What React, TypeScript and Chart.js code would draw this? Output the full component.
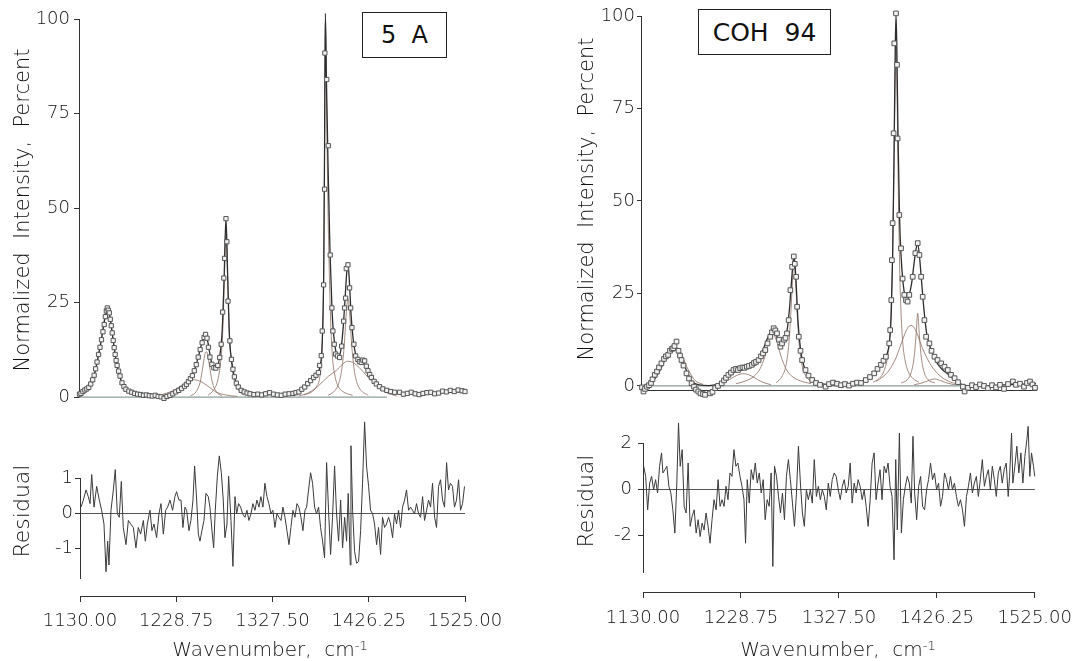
import React, { useEffect, useRef } from "react";
import { Chart, registerables } from "chart.js";
Chart.register(...registerables);

const FONT = "'DejaVu Sans', 'Open Sans', sans-serif";
const WEIGHT = "300";
const INK = "#333333";
const TEXT_INK = "#111111";
const FIT_COLOR = "#2e2e2e";
const COMP_COLOR = "#8a6f62";
const BASE_COLOR = "#8d9c9c";
const RES_COLOR = "#3a3a3a";

const X_MIN = 1130;
const X_MAX = 1525;
const X_TICKS = [1130, 1228.75, 1327.5, 1426.25, 1525];
const Y_TICKS_TOP = [0, 25, 50, 75, 100];
const Y_TICKS_RES_A = [-1, 0, 1];
const Y_TICKS_RES_B = [-2, 0, 2];

// ---------- Panel A : "5 A" ----------
const A_OBS_X = [1130.5, 1132, 1134, 1136, 1138, 1140, 1142, 1144, 1145.5, 1147, 1148.5, 1150, 1151.5, 1153, 1154.5, 1155.8, 1157, 1158, 1159, 1160, 1161, 1162, 1163, 1164, 1165, 1166, 1167, 1168, 1169, 1170.5, 1172, 1174, 1176, 1178, 1181, 1184, 1187, 1190, 1193, 1196, 1199, 1202, 1205, 1208, 1211, 1214, 1217, 1220, 1223, 1226, 1229, 1232, 1235, 1238, 1240, 1242, 1244, 1246, 1248, 1250, 1252, 1254, 1256, 1258, 1259.5, 1261, 1262.5, 1264, 1266, 1268, 1270, 1272, 1274, 1275.5, 1277, 1278.2, 1279, 1280.4, 1281.3, 1282.5, 1284.4, 1286, 1287.5, 1289, 1291, 1293, 1296, 1299, 1302, 1305, 1309, 1313, 1317, 1321, 1325, 1329, 1333, 1337, 1341, 1345, 1349, 1352, 1355, 1358, 1361, 1364, 1367, 1370, 1372.5, 1375, 1376.2, 1377.9, 1378.9, 1380.3, 1381.3, 1381.6, 1382, 1383.5, 1385.1, 1387.1, 1388.8, 1389.8, 1391.2, 1392.6, 1394.5, 1396.7, 1398.8, 1400.8, 1401.8, 1402.8, 1403.5, 1405.2, 1406.9, 1408, 1409.3, 1411.3, 1413.1, 1415.4, 1417, 1418.9, 1420.5, 1422.3, 1424, 1425.7, 1427.5, 1429.2, 1432, 1434.3, 1437.5, 1441, 1445, 1449, 1453, 1458, 1462, 1466, 1470, 1474, 1478, 1482, 1486, 1490, 1494, 1498, 1502, 1506, 1510, 1514, 1518, 1522, 1525];
const A_OBS_Y = [0.8, 1.0, 1.5, 1.9, 2.2, 2.6, 3.5, 4.6, 5.8, 7.5, 9.3, 11.3, 13.2, 15.2, 17.3, 19.2, 21.3, 22.8, 23.6, 23.0, 22.3, 20.6, 18.9, 17.0, 15.0, 13.1, 11.3, 9.7, 8.4, 6.9, 5.6, 3.8, 2.8, 2.1, 1.6, 1.3, 1.0, 0.8, 0.7, 0.5, 0.6, 0.4, 0.3, 0.5, 0.2, 0.1, -0.3, 0.2, 0.5, 0.9, 1.4, 1.8, 2.3, 2.9, 3.4, 4.1, 4.9, 5.7, 7.0, 8.6, 10.6, 12.6, 14.4, 15.8, 16.6, 15.6, 13.2, 10.6, 8.7, 7.8, 7.7, 8.4, 10.5, 14.0, 22.5, 31.5, 36.7, 47.2, 41.1, 25.4, 14.9, 10.0, 7.4, 5.4, 3.7, 2.7, 1.8, 1.4, 1.1, 0.9, 0.7, 0.8, 0.6, 0.9, 1.2, 0.8, 0.6, 0.5, 0.8, 0.9, 1.0, 1.2, 1.4, 2.1, 2.7, 3.6, 4.4, 5.2, 5.8, 6.5, 8.4, 11.0, 17.5, 29.7, 55.0, 91.0, 101.6, 84.0, 66.5, 37.6, 23.6, 17.5, 14.0, 11.4, 10.9, 10.5, 13.5, 20.1, 23.6, 26.2, 34.0, 35.0, 28.9, 23.6, 18.4, 14.0, 10.9, 10.0, 9.4, 9.2, 9.8, 9.6, 8.2, 7.0, 6.0, 5.2, 4.2, 3.5, 2.8, 2.2, 1.8, 1.5, 1.3, 1.3, 0.8, 1.0, 1.3, 0.9, 0.7, 1.0, 1.2, 1.3, 0.9, 1.1, 1.6, 1.4, 1.8, 1.5, 1.9, 1.7, 1.5];

const A_FIT_X = [1130, 1134, 1138, 1141, 1144, 1147, 1150, 1153, 1156, 1158, 1159.3, 1160.5, 1162.5, 1165, 1168, 1171, 1174, 1178, 1184, 1192, 1202, 1212, 1220, 1227, 1234, 1240, 1245, 1249, 1253, 1256.5, 1259.6, 1262, 1265, 1268, 1271, 1274, 1276.5, 1278.5, 1280.4, 1282, 1284, 1286, 1289, 1293, 1300, 1310, 1330, 1345, 1355, 1362, 1368, 1373, 1376.5, 1378.8, 1380.4, 1381.3, 1382.1, 1383.2, 1384.8, 1386.8, 1389, 1391, 1393, 1395.5, 1398, 1400.5, 1402.5, 1404, 1405.2, 1406.5, 1408.5, 1410.5, 1413, 1416, 1420, 1424, 1428, 1433, 1440, 1450, 1465, 1480, 1500, 1525];
const A_FIT_Y = [0.9, 1.5, 2.2, 3.0, 4.6, 7.4, 11.3, 15.4, 20.2, 22.6, 23.5, 22.9, 19.8, 15.0, 9.7, 6.1, 3.8, 2.1, 1.2, 0.7, 0.4, 0.3, 0.5, 1.1, 2.1, 3.5, 5.2, 7.8, 11.6, 15.0, 16.4, 14.4, 9.9, 7.8, 8.0, 10.8, 17.5, 31.5, 47.5, 33.5, 16.0, 10.0, 5.4, 2.8, 1.3, 0.8, 0.7, 0.9, 1.5, 2.7, 4.3, 5.8, 8.0, 14.0, 33.0, 66.0, 101.5, 84.0, 62.0, 39.0, 22.5, 15.5, 12.0, 10.8, 12.5, 19.0, 27.0, 33.0, 35.5, 31.5, 21.5, 15.5, 11.5, 10.0, 9.3, 8.0, 6.0, 4.2, 2.6, 1.6, 1.1, 1.0, 1.2, 1.5];

const A_C1_X = [1130, 1136, 1141, 1145, 1149, 1153, 1156, 1159, 1162, 1165, 1168, 1171, 1175, 1181, 1190, 1200];
const A_C1_Y = [1.2, 1.8, 3.0, 5.2, 9.6, 15.5, 20.5, 23.3, 20.5, 15.0, 9.6, 6.0, 3.4, 1.6, 0.6, 0.2];
const A_C2B_X = [1205, 1215, 1225, 1233, 1240, 1248, 1255, 1262, 1270, 1280, 1292];
const A_C2B_Y = [0.2, 0.7, 1.6, 2.8, 3.9, 4.6, 4.1, 2.9, 1.4, 0.6, 0.2];
const A_C2_X = [1244, 1250, 1254, 1257, 1259, 1260.2, 1261.4, 1263.4, 1266.4, 1270.4, 1276.4];
const A_C2_Y = [0.3, 1.5, 4.0, 8.5, 11.6, 12.0, 11.6, 8.5, 4.0, 1.5, 0.3];
const A_C3_X = [1262, 1268, 1272, 1275, 1277, 1278.6, 1279.6, 1280.4, 1281.2, 1282.2, 1283.8, 1285.8, 1288.8, 1292.8, 1299];
const A_C3_Y = [0.5, 2.0, 4.5, 9.5, 17, 30, 40, 45, 40, 30, 17, 9.5, 4.5, 2.0, 0.5];
const A_C4_X = [1360, 1368, 1373, 1376.5, 1378.8, 1380.4, 1381.3, 1382.1, 1383.2, 1384.8, 1386.8, 1389, 1392, 1396, 1402, 1410];
const A_C4_Y = [0.6, 1.4, 2.8, 5.5, 13, 32, 65, 99, 80, 50, 26, 12, 5.5, 2.6, 1.2, 0.5];
const A_C5B_X = [1355, 1365, 1375, 1385, 1393, 1400, 1405, 1410, 1417, 1425, 1435, 1445, 1455];
const A_C5B_Y = [0.3, 1.2, 3.0, 5.5, 7.0, 8.8, 9.5, 9.2, 7.8, 5.5, 3.0, 1.2, 0.3];
const A_C5_X = [1385, 1392, 1396, 1399, 1401.5, 1403.5, 1405.2, 1407, 1409, 1411.5, 1414.5, 1418.5, 1426];
const A_C5_Y = [0.5, 1.8, 3.8, 7.5, 14, 22, 26, 22, 14, 7.5, 3.8, 1.8, 0.5];
const A_BASE_X = [1130, 1445];
const A_BASE_Y = [0, 0];

const A_RES_X = [1131.0, 1133.4, 1136.2, 1138.5, 1140.3, 1142.0, 1144.4, 1147.1, 1149.8, 1152.2, 1154.6, 1156.7, 1158.4, 1159.7, 1161.8, 1164.2, 1166.2, 1168.3, 1170.3, 1172.4, 1174.4, 1177.2, 1179.6, 1182.0, 1184.7, 1187.4, 1189.8, 1192.2, 1195.0, 1197.0, 1199.1, 1201.8, 1203.8, 1205.9, 1208.6, 1211.0, 1213.1, 1215.5, 1217.9, 1219.9, 1222.3, 1225.0, 1227.4, 1229.1, 1231.5, 1233.6, 1235.6, 1237.7, 1239.4, 1241.8, 1243.8, 1245.9, 1247.6, 1249.7, 1251.4, 1253.1, 1255.1, 1257.2, 1259.2, 1261.6, 1263.3, 1265.4, 1267.1, 1268.8, 1270.9, 1272.9, 1275.0, 1277.0, 1278.7, 1280.8, 1282.5, 1284.9, 1286.9, 1289.0, 1290.7, 1292.7, 1294.8, 1296.8, 1299.2, 1301.3, 1303.3, 1305.4, 1307.4, 1309.5, 1311.5, 1313.6, 1315.6, 1317.7, 1319.7, 1321.8, 1323.8, 1325.9, 1327.9, 1330.0, 1332.1, 1334.1, 1336.2, 1338.2, 1340.3, 1342.3, 1344.4, 1346.4, 1348.5, 1350.5, 1352.6, 1354.6, 1356.7, 1358.7, 1360.8, 1362.5, 1364.5, 1366.6, 1368.6, 1370.7, 1372.7, 1374.8, 1376.8, 1378.9, 1380.9, 1383.0, 1385.0, 1387.1, 1389.1, 1391.2, 1393.2, 1395.3, 1397.4, 1399.4, 1401.5, 1403.5, 1405.2, 1407.3, 1408.0, 1409.7, 1411.7, 1413.8, 1415.8, 1417.9, 1419.9, 1422.0, 1424.0, 1426.1, 1428.1, 1430.2, 1432.2, 1434.3, 1436.3, 1438.4, 1440.4, 1442.5, 1444.5, 1446.6, 1448.6, 1450.7, 1452.7, 1454.8, 1456.8, 1458.9, 1460.9, 1463.0, 1465.0, 1467.1, 1469.1, 1471.2, 1473.2, 1475.3, 1477.4, 1479.4, 1481.5, 1483.5, 1485.6, 1487.6, 1489.7, 1491.7, 1493.8, 1495.8, 1497.9, 1499.9, 1502.0, 1504.0, 1506.1, 1508.1, 1510.1, 1512.2, 1514.2, 1516.3, 1518.4, 1520.4, 1522.5, 1524.5];
const A_RES_Y = [0.17, 0.37, 0.66, 0.47, 0.27, 1.1, 0.17, 0.76, 0.37, 0.08, -0.31, -1.67, -0.8, -1.48, 0.08, 0.66, 1.24, -0.02, -0.12, 0.9, -0.41, -0.9, -0.21, -0.31, -0.41, -0.99, -0.41, -0.6, -0.21, -0.8, -0.31, 0.08, -0.5, -0.31, -0.7, -0.02, 0.27, -0.6, 0.08, 0.17, 0.37, 0.08, 0.47, 0.61, 0.37, 0.37, -0.41, 0.17, 0.08, -0.5, -0.21, 0.37, 1.34, 0.37, -0.6, -0.8, -0.5, -0.21, 0.56, 0.47, 0.17, -0.5, -0.99, 0.08, 1.05, 1.63, 1.15, 0.37, -0.7, -0.31, 1.05, -0.21, -1.52, 0.47, -0.02, 0.27, 0.17, -0.02, -0.12, 0.08, -0.21, -0.02, 0.27, 0.08, 0.37, 0.17, 0.47, 0.17, 0.85, 0.47, 0.27, -0.02, 0.08, -0.41, -0.02, -0.12, -0.21, 0.17, -0.12, -0.5, -0.9, -0.41, 0.08, -0.12, 0.27, 0.17, -0.12, -0.5, 0.08, 0.17, 0.66, 1.15, 0.85, 0.17, -0.02, 0.17, -0.41, -0.8, -1.28, 1.44, 0.08, -1.18, -0.12, 1.34, -0.02, -0.8, 0.37, -0.99, -0.12, -0.8, 0.56, -1.48, 1.92, 0.08, -1.09, -1.43, -1.38, -0.5, 0.85, 2.6, 1.34, 0.76, 0.08, -0.02, -0.31, -0.9, -0.41, -1.18, -0.12, -0.41, -0.31, -0.12, -0.31, -0.7, -0.02, -0.31, 0.08, -0.41, 0.17, 0.37, 0.66, 0.08, 0.17, 0.08, -0.02, 0.27, -0.02, -0.12, 0.47, -0.21, 0.08, 0.37, 0.17, 0.85, -0.12, -0.41, 0.76, 0.95, 0.37, 0.17, 1.44, 0.66, 0.85, 0.76, 0.17, 0.37, 0.95, 0.08, 0.27, 0.76];

// ---------- Panel B : "COH 94" ----------
const B_OBS_X = [1131, 1132.5, 1134, 1136, 1138, 1140, 1141.5, 1143.8, 1146, 1148, 1150.4, 1153, 1155, 1157.1, 1159, 1161, 1162.2, 1163.5, 1165.5, 1167.5, 1169, 1170.5, 1172.5, 1175.5, 1178, 1180.6, 1183, 1185, 1187.3, 1189.5, 1192, 1194, 1196.5, 1199, 1201.5, 1204.1, 1207, 1210.7, 1213, 1215, 1217.4, 1220, 1222.5, 1225, 1227, 1229.2, 1231.5, 1233.5, 1235.8, 1238, 1240.9, 1243, 1245, 1247.6, 1250, 1252, 1254.3, 1256.5, 1259.3, 1261, 1262.7, 1264.3, 1266, 1268, 1269.4, 1271, 1273, 1274.5, 1276, 1277.7, 1279.4, 1281.1, 1282.8, 1283.8, 1285.1, 1286.1, 1287.8, 1289.5, 1291.1, 1294.5, 1297.5, 1301.2, 1305, 1309, 1314.6, 1318, 1322, 1326, 1330, 1334, 1338, 1342, 1346, 1350, 1354.8, 1359, 1363.2, 1366.5, 1369.9, 1372.5, 1374.9, 1378.2, 1379.2, 1380.3, 1380.9, 1381.6, 1382.6, 1383.3, 1385, 1386, 1386.6, 1388.3, 1390, 1391.6, 1393.3, 1395, 1396.6, 1398.3, 1401.7, 1404.4, 1406.7, 1408.4, 1410.1, 1411.7, 1413.4, 1415.1, 1418.4, 1420.5, 1423.5, 1426.5, 1430.2, 1433.5, 1436.8, 1440, 1443.6, 1447, 1451.9, 1453.6, 1457, 1461, 1465, 1469, 1473, 1477, 1481, 1485, 1489, 1493, 1497, 1501.9, 1505, 1509, 1513, 1516, 1519, 1521.5, 1524];
const B_OBS_Y = [-0.4, -1.5, -0.8, -0.2, 0.2, 0.8, 1.8, 3.0, 3.9, 5.0, 6.1, 7.3, 8.0, 8.4, 9.5, 10.0, 10.2, 10.8, 12.0, 9.5, 8.2, 7.0, 5.5, 3.4, 2.0, 0.7, -0.2, -1.0, -1.5, -2.0, -2.2, -2.4, -2.6, -2.0, -1.6, -0.6, 0.0, 0.7, 1.5, 2.2, 3.0, 3.6, 4.3, 4.6, 4.3, 4.8, 5.0, 4.9, 5.2, 5.4, 5.7, 6.2, 6.5, 7.0, 8.0, 8.8, 9.7, 11.5, 13.3, 14.5, 15.6, 15.0, 14.2, 12.5, 10.6, 11.5, 12.5, 13.0, 14.2, 17.8, 25.9, 32.2, 35.0, 33.0, 29.5, 21.4, 13.3, 9.5, 7.0, 4.3, 2.8, 1.6, 0.8, 0.3, -0.2, 0.5, 0.9, 0.6, 0.2, 0.5, 0.1, 0.6, 0.9, 0.8, 1.6, 2.4, 3.4, 4.6, 5.7, 6.8, 7.9, 11.5, 15.1, 23.2, 34.0, 44.0, 68.3, 92.6, 100.7, 86.8, 66.9, 46.2, 37.2, 29.0, 24.6, 23.2, 22.8, 24.6, 29.5, 35.9, 38.6, 35.4, 29.5, 24.1, 17.8, 13.3, 11.5, 9.5, 7.9, 7.0, 6.1, 5.2, 4.3, 3.0, 2.1, 1.0, -0.2, -1.5, -0.5, 0.2, -0.3, 0.4, 0.0, -0.6, 0.2, -0.4, 0.3, -0.8, 0.5, 1.2, 0.3, 0.6, -0.2, 0.8, 1.2, 0.4, -0.5];

const B_FIT_X = [1130, 1137, 1143, 1150, 1156, 1160, 1163.5, 1167, 1171, 1176, 1181, 1188, 1198, 1206, 1212, 1218, 1224, 1230, 1236, 1242, 1247, 1252, 1257, 1261, 1264, 1267, 1270, 1273, 1276, 1278.5, 1281, 1282.9, 1284.8, 1287, 1289.5, 1292, 1296, 1302, 1310, 1320, 1335, 1348, 1356, 1362, 1367, 1372, 1376, 1378.5, 1380.3, 1381.7, 1383, 1384.2, 1385, 1385.8, 1387, 1388.5, 1390, 1392, 1394, 1396, 1398, 1400.5, 1403, 1405, 1406.7, 1408.5, 1410.5, 1413, 1415.5, 1418.5, 1422, 1426, 1431, 1436, 1442, 1448, 1455, 1470, 1490, 1510, 1525];
const B_FIT_Y = [-0.2, 0.4, 1.8, 5.0, 8.5, 10.0, 10.6, 9.8, 7.4, 3.8, 1.2, 0.3, 0.1, 0.4, 1.2, 2.6, 3.9, 4.6, 5.0, 5.8, 7.2, 9.8, 13.2, 15.0, 14.6, 12.6, 11.2, 11.8, 14.8, 21.0, 30.0, 35.2, 29.5, 17.5, 10.0, 6.2, 3.3, 1.5, 0.6, 0.3, 0.4, 0.9, 1.8, 3.0, 4.4, 6.2, 8.6, 12.0, 20.0, 36.0, 62.0, 90.0, 100.5, 92.0, 68.0, 46.0, 35.5, 28.0, 24.3, 23.2, 24.5, 27.5, 33.0, 37.0, 38.4, 35.0, 28.5, 20.5, 14.5, 11.0, 8.5, 6.2, 4.5, 3.4, 2.0, 0.8, 0.1, 0.0, 0.2, 0.5, 0.6];

const B_C1_X = [1135, 1143, 1150, 1155, 1159, 1163.5, 1168, 1172, 1177, 1184, 1192];
const B_C1_Y = [0.4, 1.5, 4.5, 7.5, 9.6, 10.5, 9.6, 7.5, 4.5, 1.5, 0.4];
const B_C2A_X = [1205, 1215, 1222, 1228, 1232, 1237, 1243, 1250, 1260];
const B_C2A_Y = [0.3, 1.2, 2.3, 3.1, 3.3, 3.1, 2.3, 1.2, 0.3];
const B_C2B_X = [1225, 1235, 1243, 1249, 1254, 1258, 1262, 1266, 1270, 1275, 1281, 1289, 1300];
const B_C2B_Y = [0.6, 1.4, 2.6, 4.6, 8.0, 11.8, 14.0, 11.8, 8.0, 4.6, 2.6, 1.4, 0.6];
const B_C3_X = [1265, 1271, 1275, 1278, 1280, 1281.5, 1283, 1284.5, 1286, 1288, 1291, 1295, 1301, 1310];
const B_C3_Y = [0.8, 2.6, 5.6, 11.8, 20.5, 28.5, 34, 28.5, 20.5, 11.8, 5.6, 2.6, 1.2, 0.5];
const B_C4_X = [1362, 1368, 1373, 1376, 1378, 1380, 1381.5, 1383, 1384.2, 1385, 1385.8, 1387, 1388.5, 1390, 1392, 1394, 1397, 1402, 1408];
const B_C4_Y = [1.0, 2.0, 4.0, 7.0, 11.0, 20, 34, 59, 84, 92, 84, 59, 34, 20, 11.0, 7.0, 4.0, 2.0, 1.0];
const B_C5B_X = [1365, 1372, 1378, 1384, 1389, 1393, 1396.5, 1400, 1403.5, 1407, 1411, 1416, 1422, 1430, 1440, 1450];
const B_C5B_Y = [1.2, 2.5, 4.2, 7.0, 10.5, 13.5, 15.6, 16.4, 15.6, 13.5, 10.5, 7.5, 4.8, 2.5, 1.0, 0.4];
const B_C5_X = [1390, 1396, 1400, 1403, 1405, 1406.7, 1408.4, 1410.4, 1413.4, 1417.4, 1424];
const B_C5_Y = [0.8, 1.6, 3.5, 7.5, 13.5, 19.6, 13.5, 7.5, 3.5, 1.6, 0.8];
const B_C6_X = [1403, 1411, 1417, 1423.5, 1430, 1436, 1444];
const B_C6_Y = [0.3, 0.8, 1.4, 1.9, 1.4, 0.8, 0.3];
const B_BASE_X = [1130, 1455];
const B_BASE_Y = [0, 0];

const B_RES_X = [1130.7, 1132.7, 1134.7, 1136.7, 1138.7, 1140.7, 1142.7, 1144.7, 1146.7, 1148.7, 1150.1, 1152.1, 1154.1, 1156.1, 1158.1, 1160.1, 1162.1, 1164.1, 1165.8, 1167.5, 1169.5, 1171.5, 1173.5, 1175.5, 1177.5, 1179.5, 1181.6, 1183.6, 1185.6, 1187.6, 1189.6, 1191.6, 1193.6, 1195.6, 1197.6, 1199.6, 1201.6, 1203.7, 1205.7, 1207.7, 1209.7, 1211.7, 1213.7, 1215.7, 1217.7, 1219.7, 1221.7, 1223.7, 1225.7, 1227.8, 1229.8, 1231.8, 1233.4, 1235.1, 1237.1, 1239.1, 1241.1, 1243.2, 1245.2, 1247.2, 1249.2, 1251.2, 1253.2, 1255.2, 1257.2, 1259.2, 1260.9, 1262.6, 1264.6, 1266.6, 1268.6, 1270.6, 1272.6, 1274.6, 1276.6, 1278.6, 1280.7, 1282.7, 1284.7, 1286.7, 1288.7, 1290.7, 1292.7, 1294.7, 1296.7, 1298.7, 1300.7, 1302.7, 1304.8, 1306.8, 1308.8, 1310.8, 1312.8, 1314.8, 1316.8, 1318.8, 1320.8, 1322.8, 1324.8, 1326.9, 1328.9, 1330.9, 1332.9, 1334.9, 1336.9, 1338.9, 1340.9, 1342.9, 1344.9, 1346.9, 1348.9, 1351.0, 1353.0, 1355.0, 1357.0, 1359.0, 1361.0, 1363.0, 1365.0, 1367.0, 1369.0, 1371.0, 1373.1, 1375.1, 1377.1, 1379.1, 1381.1, 1383.1, 1384.8, 1386.4, 1388.5, 1390.5, 1392.5, 1394.5, 1396.5, 1398.5, 1400.5, 1402.2, 1403.9, 1405.9, 1407.9, 1409.9, 1411.9, 1413.9, 1415.9, 1417.9, 1419.9, 1421.9, 1423.9, 1426.0, 1428.0, 1430.0, 1432.0, 1434.0, 1436.0, 1438.0, 1440.0, 1442.0, 1444.0, 1446.0, 1448.0, 1450.1, 1452.1, 1454.1, 1456.1, 1458.1, 1460.1, 1462.1, 1464.1, 1466.1, 1468.1, 1470.1, 1472.1, 1474.2, 1476.2, 1478.2, 1480.2, 1482.2, 1484.2, 1486.2, 1488.2, 1490.2, 1492.2, 1494.2, 1496.2, 1498.2, 1499.6, 1501.6, 1502.9, 1504.9, 1506.9, 1508.9, 1511.0, 1513.0, 1515.0, 1517.0, 1518.3, 1520.0, 1521.7, 1523.7, 1525.0];
const B_RES_Y = [0.99, 0.55, -0.9, 0.26, 0.55, -0.03, 0.41, -0.17, 0.99, 1.57, 0.7, 0.84, 0.99, 0.12, -0.17, -0.9, -1.91, 0.26, 2.87, 0.99, 1.71, -0.75, -1.04, 1.13, -1.62, -1.19, -0.9, -1.91, -1.33, -2.06, -1.48, -1.77, -1.04, -1.62, -2.35, -1.33, -0.46, -0.9, 0.41, -0.75, -0.46, -0.75, 0.12, -0.46, 0.7, 0.55, 1.71, 0.99, 1.13, 0.55, 0.12, -0.46, -2.35, 0.41, -0.61, 0.84, 0.41, 1.13, 0.26, 0.7, -0.17, 0.41, -1.33, -0.46, -0.75, 0.7, -3.36, 0.99, 0.55, -0.32, -1.04, -0.17, -1.33, 0.55, 1.28, 0.41, -0.61, -1.62, -0.17, 1.86, 0.26, -1.04, -1.62, -0.03, -0.46, -0.03, -0.61, 1.28, -0.32, 0.12, -0.46, -0.03, -0.32, -0.9, 0.26, -0.32, 0.41, 0.7, 0.55, -0.03, -0.46, 0.12, 0.41, -0.17, 0.12, 1.13, -0.61, 0.26, -0.17, 0.41, 0.12, -0.46, -0.03, -0.75, -1.62, -0.46, 1.13, 1.57, -0.46, 0.26, 0.84, -0.46, 0.99, 0.7, 1.13, 0.12, -0.32, -3.07, 1.28, -1.77, 2.43, -1.91, -0.46, 0.12, 0.55, 0.26, -0.61, 2.29, -0.17, -1.33, 0.12, 0.55, -0.75, -0.9, -0.03, 0.41, 1.13, 0.41, 0.7, -0.03, 0.26, -0.75, -0.32, 0.7, 0.41, -0.03, 0.55, -0.03, 0.26, -0.32, -0.75, -0.46, -0.9, -1.62, -0.32, 0.12, 0.7, -0.17, 0.26, 0.55, -0.32, 0.41, 1.28, 0.12, 0.55, 0.84, -0.03, 0.99, 0.41, -0.32, 0.7, 0.99, 0.26, 0.84, 1.13, -0.32, 0.55, 2.43, 0.26, 0.99, 1.86, 0.7, 1.57, 0.26, 1.42, 2.14, 2.72, 0.55, 1.57, 0.99, 0.55];

// ---------- helpers ----------
type XY = { x: number; y: number };
const zip = (xs: number[], ys: number[]): XY[] => xs.map((x, i) => ({ x, y: ys[i] }));

interface SpecOpts {
  obs: XY[];
  fit: XY[];
  comps: XY[][];
  base: XY[];
  yMin: number;
  yw: number;
  pad: { left: number; right: number; top: number; bottom: number };
  showX: boolean;
  tickLen: number;
  tickPad: number;
  mr: number;
}

function spectrumConfig(o: SpecOpts): any {
  const datasets: any[] = [
    {
      data: o.obs,
      showLine: false,
      pointStyle: "rect",
      pointRadius: o.mr,
      pointBackgroundColor: "#f2f2f2",
      pointBorderColor: "#555555",
      pointBorderWidth: 1,
      clip: false,
    },
    {
      data: o.fit,
      borderColor: FIT_COLOR,
      borderWidth: 1.3,
      pointRadius: 0,
      cubicInterpolationMode: "monotone",
      clip: false,
    },
    ...o.comps.map((c) => ({
      data: c,
      borderColor: COMP_COLOR,
      borderWidth: 0.8,
      pointRadius: 0,
      cubicInterpolationMode: "monotone",
      clip: false,
    })),
    { data: o.base, borderColor: BASE_COLOR, borderWidth: 1.2, pointRadius: 0, clip: false },
  ];
  return {
    type: "line",
    data: { datasets },
    options: {
      responsive: false,
      animation: false,
      events: [],
      layout: { padding: o.pad },
      plugins: { legend: { display: false }, tooltip: { enabled: false } },
      scales: {
        x: {
          type: "linear",
          min: X_MIN,
          max: X_MAX,
          display: o.showX,
          afterFit: (s: any) => {
            s.height = 0;
          },
          grid: { display: false },
          border: { display: true, color: INK, width: 1 },
          ticks: { display: false },
        },
        y: {
          type: "linear",
          min: o.yMin,
          max: 100,
          afterBuildTicks: (s: any) => {
            s.ticks = Y_TICKS_TOP.map((v) => ({ value: v }));
          },
          afterFit: (s: any) => {
            s.width = o.yw;
          },
          grid: { drawOnChartArea: false, color: INK, tickLength: o.tickLen, lineWidth: 1 },
          border: { color: INK, width: 1 },
          ticks: { padding: o.tickPad, color: TEXT_INK, font: { family: FONT, size: 18, weight: WEIGHT } },
        },
      },
    },
  };
}

interface ResOpts {
  res: XY[];
  yMin: number;
  yMax: number;
  yTicks: number[];
  axisAt: number;
  yw: number;
  pad: { left: number; right: number; top: number; bottom: number };
  tickPad: number;
  xTickPad: number;
}

function residualConfig(o: ResOpts): any {
  return {
    type: "line",
    data: {
      datasets: [
        { data: o.res, borderColor: RES_COLOR, borderWidth: 1, pointRadius: 0, tension: 0, clip: false },
      ],
    },
    options: {
      responsive: false,
      animation: false,
      events: [],
      layout: { padding: o.pad },
      plugins: { legend: { display: false }, tooltip: { enabled: false } },
      scales: {
        x: {
          type: "linear",
          min: X_MIN,
          max: X_MAX,
          position: { y: o.axisAt },
          afterBuildTicks: (s: any) => {
            s.ticks = X_TICKS.map((v) => ({ value: v }));
          },
          grid: { drawOnChartArea: false, color: INK, tickLength: 5, lineWidth: 1 },
          border: { display: true, color: INK, width: 1 },
          ticks: {
            maxRotation: 0,
            autoSkip: false,
            padding: o.xTickPad,
            color: TEXT_INK,
            font: { family: FONT, size: 18, weight: WEIGHT },
            callback: (v: any) => Number(v).toFixed(2),
          },
        },
        y: {
          type: "linear",
          min: o.yMin,
          max: o.yMax,
          afterBuildTicks: (s: any) => {
            s.ticks = o.yTicks.map((v) => ({ value: v }));
          },
          afterFit: (s: any) => {
            s.width = o.yw;
          },
          grid: {
            drawOnChartArea: true,
            color: (ctx: any) => (ctx.tick && ctx.tick.value === 0 ? "#555555" : "rgba(0,0,0,0)"),
            tickColor: INK,
            tickLength: 5,
            lineWidth: 1,
          },
          border: { color: INK, width: 1 },
          ticks: { padding: o.tickPad, color: TEXT_INK, font: { family: FONT, size: 18, weight: WEIGHT } },
        },
      },
    },
  };
}

function ChartCanvas(props: { left: number; top: number; width: number; height: number; build: () => any }) {
  const ref = useRef<HTMLCanvasElement>(null);
  useEffect(() => {
    const chart = new Chart(ref.current as HTMLCanvasElement, props.build());
    return () => chart.destroy();
  }, []);
  return (
    <canvas
      ref={ref}
      width={props.width}
      height={props.height}
      style={{ position: "absolute", left: props.left, top: props.top, width: props.width, height: props.height }}
    />
  );
}

const textBase: React.CSSProperties = {
  position: "absolute",
  fontFamily: FONT,
  fontWeight: 300,
  color: TEXT_INK,
  whiteSpace: "pre",
  lineHeight: 1,
};

function VTitle(props: { cx: number; cy: number; size: number; text: string }) {
  return (
    <div
      style={{
        ...textBase,
        left: props.cx,
        top: props.cy,
        fontSize: props.size,
        transform: "translate(-50%, -50%) rotate(-90deg)",
      }}
    >
      {props.text}
    </div>
  );
}

function XTitle(props: { cx: number; cy: number }) {
  return (
    <div
      style={{
        ...textBase,
        left: props.cx - 150,
        top: props.cy - 10,
        width: 300,
        textAlign: "center",
        fontSize: 20,
        lineHeight: "20px",
      }}
    >
      {"Wavenumber,  cm"}
      <sup style={{ fontSize: 13, verticalAlign: "6px", lineHeight: 0 }}>-1</sup>
    </div>
  );
}

function Label(props: { left: number; top: number; width: number; height: number; text: string; size: number }) {
  return (
    <div
      style={{
        ...textBase,
        left: props.left,
        top: props.top,
        width: props.width,
        height: props.height,
        boxSizing: "border-box",
        border: "1px solid #222",
        background: "#fff",
        display: "flex",
        alignItems: "center",
        justifyContent: "center",
        fontSize: props.size,
        fontWeight: 400,
      }}
    >
      {props.text}
    </div>
  );
}

export default function App() {
  const buildATop = () =>
    spectrumConfig({
      obs: zip(A_OBS_X, A_OBS_Y),
      fit: zip(A_FIT_X, A_FIT_Y),
      comps: [
        zip(A_C1_X, A_C1_Y),
        zip(A_C2B_X, A_C2B_Y),
        zip(A_C2_X, A_C2_Y),
        zip(A_C3_X, A_C3_Y),
        zip(A_C4_X, A_C4_Y),
        zip(A_C5B_X, A_C5B_Y),
        zip(A_C5_X, A_C5_Y),
      ],
      base: zip(A_BASE_X, A_BASE_Y),
      yMin: 0,
      yw: 79,
      pad: { left: 0, right: 25, top: 19, bottom: 12 },
      showX: false,
      tickLen: 5,
      tickPad: 4,
      mr: 3.0,
    });

  const buildBTop = () =>
    spectrumConfig({
      obs: zip(B_OBS_X, B_OBS_Y),
      fit: zip(B_FIT_X, B_FIT_Y),
      comps: [
        zip(B_C1_X, B_C1_Y),
        zip(B_C2A_X, B_C2A_Y),
        zip(B_C2B_X, B_C2B_Y),
        zip(B_C3_X, B_C3_Y),
        zip(B_C4_X, B_C4_Y),
        zip(B_C5B_X, B_C5B_Y),
        zip(B_C5_X, B_C5_Y),
        zip(B_C6_X, B_C6_Y),
      ],
      base: zip(B_BASE_X, B_BASE_Y),
      yMin: -1.1,
      yw: 81,
      pad: { left: 0, right: 24, top: 16, bottom: 20 },
      showX: true,
      tickLen: 4,
      tickPad: 2,
      mr: 3.3,
    });

  const buildARes = () =>
    residualConfig({
      res: zip(A_RES_X, A_RES_Y),
      yMin: -1.85,
      yMax: 1,
      yTicks: Y_TICKS_RES_A,
      axisAt: -2.39,
      yw: 80,
      pad: { left: 0, right: 55, top: 66, bottom: 83 },
      tickPad: 2,
      xTickPad: 9,
    });

  const buildBRes = () =>
    residualConfig({
      res: zip(B_RES_X, B_RES_Y),
      yMin: -3.6,
      yMax: 2,
      yTicks: Y_TICKS_RES_B,
      axisAt: -4.49,
      yw: 83,
      pad: { left: 0, right: 46, top: 33, bottom: 89 },
      tickPad: 6,
      xTickPad: 10,
    });

  return (
    <div style={{ position: "absolute", left: 0, top: 0, width: 1082, height: 661, background: "#fff", overflow: "hidden" }}>
      <ChartCanvas left={0} top={0} width={490} height={412} build={buildATop} />
      <ChartCanvas left={0} top={412} width={520} height={249} build={buildARes} />
      <ChartCanvas left={560} top={0} width={500} height={410} build={buildBTop} />
      <ChartCanvas left={560} top={410} width={522} height={251} build={buildBRes} />

      <VTitle cx={22} cy={210} size={21} text={"Normalized  Intensity,  Percent"} />
      <VTitle cx={586} cy={199} size={21} text={"Normalized  Intensity,  Percent"} />
      <VTitle cx={22} cy={511} size={22} text={"Residual"} />
      <VTitle cx={586} cy={501} size={22} text={"Residual"} />

      <XTitle cx={270} cy={649} />
      <XTitle cx={838} cy={649} />

      <Label left={362} top={12} width={85} height={46} text={"5  A"} size={24} />
      <Label left={698} top={9} width={133} height={46} text={"COH  94"} size={25} />
    </div>
  );
}
